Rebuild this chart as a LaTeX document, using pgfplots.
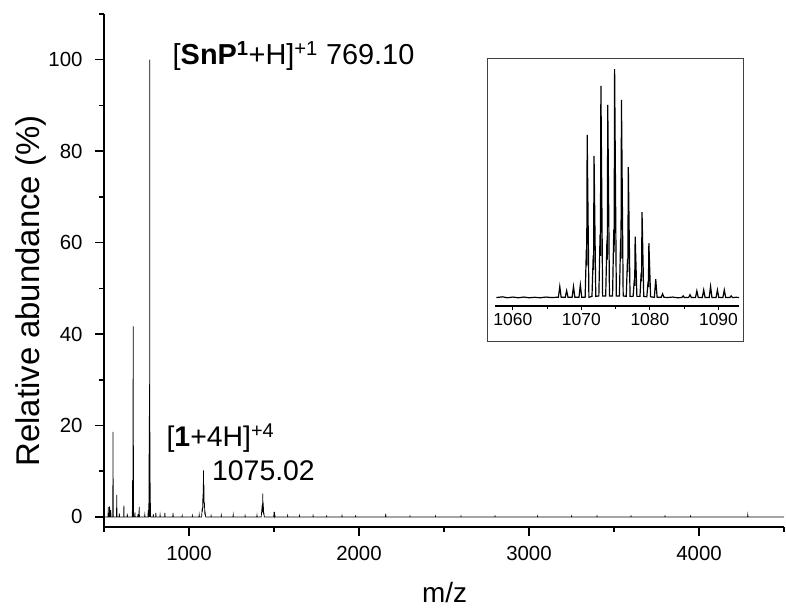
\documentclass[border=0pt]{standalone}
\usepackage{fontspec}
\setmainfont{Liberation Sans}
\usepackage{pgfplots}
\pgfplotsset{compat=1.18}
\begin{document}
\begin{tikzpicture}
\path[use as bounding box] (0bp,0bp) rectangle (786bp,610bp);
\begin{axis}[
  at={(104bp,83bp)}, anchor=south west,
  scale only axis, width=680bp, height=513bp,
  xmin=500, xmax=4500, ymin=-2.2, ymax=110,
  axis x line*=bottom, axis y line*=left,
  axis line style={line width=1.5bp, -},
  xtick={1000,2000,3000,4000},
  minor xtick={500,1500,2500,3500,4500},
  ytick={0,20,40,60,80,100},
  minor ytick={10,30,50,70,90,110},
  tick align=outside,
  major tick length=9bp, minor tick length=5bp,
  every tick/.style={line width=1.5bp, black},
  tick label style={font=\fontsize{20.5}{24}\selectfont},
  xticklabel style={yshift=-7bp},
  yticklabel style={xshift=-9bp},
  /pgf/number format/assume math mode=true,
  /pgf/number format/set thousands separator={},
  xlabel={m/z}, ylabel={Relative abundance (\%)},
  xlabel style={font=\fontsize{28}{32}\selectfont, at={(axis description cs:0.501,-0.127)}, anchor=center},
  ylabel style={font=\fontsize{33}{36}\selectfont, at={(axis description cs:-0.107,0.46)}, anchor=center},
  clip=false,
]
\addplot[black, line width=0.7bp] coordinates {
(500,0)
(523.5,0)(525,2.2)(526.5,0)
(531.5,0)(533,2.3)(534.5,0)
(538.5,0)(540,1.5)(541.5,0)
(551.5,0)(553,18.6)(554.5,0)
(573.5,0)(575,4.8)(576.5,0)
(588.5,0)(590,0.8)(591.5,0)
(615.5,0)(617,2.5)(618.5,0)
(635.5,0)(637,0.7)(638.5,0)
(666.5,0)(668,8)(669.5,0)(670,0)(671,27.8)(672,41.7)(673.5,0)
(680.5,0)(682,1.0)(683.5,0)
(698.5,0)(700,0.6)(701.5,0)
(705.5,0)(707,2.2)(708.5,0)
(738.5,0)(740,0.5)(741.5,0)
(758.5,0)(760,1.5)(761.5,0)
(763.5,0)(765,13.7)(766,0)(767,29)(768,0)(769.1,100)(770.2,0)(771,14)(772,0)(773,3)(774.5,0)
(788.5,0)(790,0.6)(791.5,0)
(803.5,0)(805,0.9)(806.5,0)
(828.5,0)(830,0.5)(831.5,0)
(856.5,0)(858,0.9)(859.5,0)
(904.5,0)(906,0.9)(907.5,0)
(958.5,0)(960,0.3)(961.5,0)
(1018.5,0)(1020,0.3)(1021.5,0)
(1058.5,0)(1060,0.5)(1061.5,0)
(1074,0)(1078,2)(1080,1.2)(1082,5)(1083.5,3)(1085,10.2)(1086.5,4)(1088,7)(1089.5,2)(1091,3)(1093,0.8)(1095,1)(1098,0)
(1128.5,0)(1130,0.3)(1131.5,0)
(1188.5,0)(1190,0.4)(1191.5,0)
(1258.5,0)(1260,0.5)(1261.5,0)
(1328.5,0)(1330,0.3)(1331.5,0)
(1398.5,0)(1400,0.4)(1401.5,0)
(1425,0)(1430,2.5)(1432,1)(1434,5.1)(1435.5,1.5)(1437,3)(1439,0.5)(1440,1)(1443,0)
(1498.5,0)(1500,1.1)(1502,0.2)(1504,0.6)(1506,0)
(1578.5,0)(1580,0.3)(1581.5,0)
(1648.5,0)(1650,0.3)(1651.5,0)
(1728.5,0)(1730,0.3)(1731.5,0)
(1808.5,0)(1810,0.2)(1811.5,0)
(1898.5,0)(1900,0.3)(1901.5,0)
(1978.5,0)(1980,0.2)(1981.5,0)
(2155.5,0)(2157,0.7)(2158.5,0)
(2298.5,0)(2300,0.2)(2301.5,0)
(2448.5,0)(2450,0.2)(2451.5,0)
(2598.5,0)(2600,0.2)(2601.5,0)
(2798.5,0)(2800,0.2)(2801.5,0)
(3048.5,0)(3050,0.2)(3051.5,0)
(3248.5,0)(3250,0.2)(3251.5,0)
(3398.5,0)(3400,0.2)(3401.5,0)
(3598.5,0)(3600,0.2)(3601.5,0)
(3798.5,0)(3800,0.2)(3801.5,0)
(3948.5,0)(3950,0.2)(3951.5,0)
(4285.5,0)(4287,0.5)(4288.5,0)
(4500,0)
};
\node[anchor=base west, inner sep=0pt, font=\fontsize{29}{31}\selectfont] at (axis cs:903,99.0) {[\textbf{SnP\textsuperscript{1}}+H]\textsuperscript{+1} 769.10};
\node[anchor=base west, inner sep=0pt, font=\fontsize{28.5}{30}\selectfont] at (axis cs:867,15.35) {[\textbf{1}+4H]\textsuperscript{+4}};
\node[anchor=base west, inner sep=0pt, font=\fontsize{28.5}{30}\selectfont] at (axis cs:1135,8.05) {1075.02};
\end{axis}
\begin{axis}[
  at={(495bp,304bp)}, anchor=south west,
  scale only axis, width=244bp, height=248bp,
  xmin=1057.4, xmax=1093, ymin=-3.4, ymax=104.9,
  axis x line*=bottom, axis y line=none,
  axis line style={line width=1.2bp, -},
  xtick={1060,1070,1080,1090},
  minor xtick={1065,1075,1085},
  tick align=outside,
  major tick length=4bp, minor tick length=3bp,
  every tick/.style={line width=1bp, black},
  tick label style={font=\fontsize{17.5}{20}\selectfont},
  /pgf/number format/assume math mode=true,
  /pgf/number format/set thousands separator={},
  clip=false,
]
\addplot[black, line width=1.2bp] coordinates {
(1057.6,0.3)(1058.5,0.6)(1059.2,0.2)(1060,0.5)(1060.8,0.2)(1061.6,0.5)(1062.4,0.2)(1063.2,0.4)(1064,0.2)(1064.8,0.5)(1065.6,0.3)(1066.4,0.4)
(1066.65,0.4)(1066.85,5.1)(1067.05,0.4)
(1067.65,0.4)(1067.85,3.3)(1068.05,0.4)
(1068.65,0.4)(1068.85,5.1)(1069.05,0.4)
(1069.65,0.4)(1069.85,5.8)(1070.05,0.4)
(1070.55,0.4)(1070.73,21.4)(1070.78,14.3)(1070.85,71.3)(1071.1,0.4)
(1071.55,0.8)(1071.73,18.7)(1071.78,12.4)(1071.85,62.2)(1072.1,0.8)
(1072.55,1)(1072.73,27.8)(1072.78,18.5)(1072.85,92.7)(1073.1,1)
(1073.55,1)(1073.73,25.3)(1073.78,16.9)(1073.85,84.4)(1074.1,1)
(1074.55,1)(1074.73,30)(1074.78,20)(1074.85,100)(1075.1,1)
(1075.55,1)(1075.73,26)(1075.78,17.3)(1075.85,86.6)(1076.1,1)
(1076.55,0.8)(1076.73,17.2)(1076.78,11.4)(1076.85,57.2)(1077.1,0.8)
(1077.55,0.8)(1077.73,8.1)(1077.78,5.4)(1077.85,26.9)(1078.1,0.8)
(1078.55,0.8)(1078.73,11.3)(1078.78,7.5)(1078.85,37.6)(1079.1,0.8)
(1079.55,0.6)(1079.73,7.2)(1079.78,4.8)(1079.85,24.0)(1080.1,0.6)
(1080.65,0.4)(1080.85,8.3)(1081.05,0.4)
(1081.65,0.4)(1081.85,1.9)(1082.05,0.4)
(1082.6,0.3)(1083.3,0.5)(1084,0.2)
(1084.65,0.3)(1084.85,1.0)(1085.05,0.3)
(1085.65,0.3)(1085.85,1.5)(1086.05,0.3)
(1086.65,0.3)(1086.85,3.2)(1087.05,0.3)
(1087.65,0.3)(1087.85,3.6)(1088.05,0.3)
(1088.65,0.3)(1088.85,5.1)(1089.05,0.3)
(1089.65,0.3)(1089.85,3.6)(1090.05,0.3)
(1090.65,0.3)(1090.85,3.6)(1091.05,0.3)
(1091.65,0.3)(1091.85,1.0)(1092.05,0.3)(1092.6,0.4)(1093,0.3)
};
\draw[line width=0.8bp, black!75] (rel axis cs:-0.0328,-0.141) rectangle (rel axis cs:1.0164,1);
\end{axis}
\end{tikzpicture}
\end{document}
